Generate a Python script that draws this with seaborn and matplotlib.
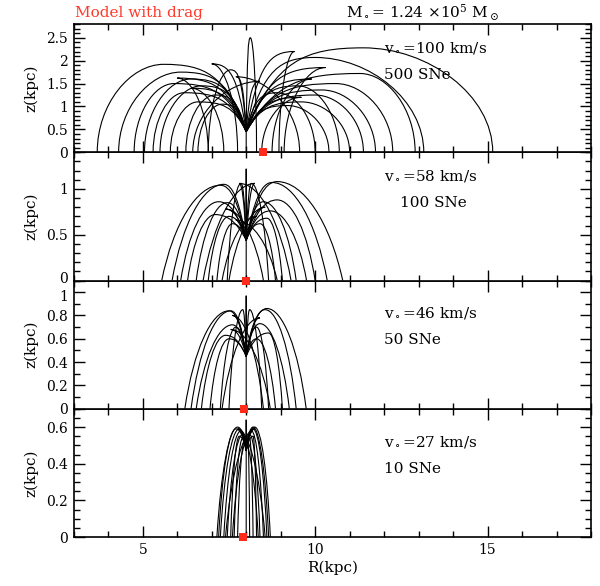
import matplotlib
matplotlib.use('Agg')
import matplotlib.pyplot as plt
from matplotlib.path import Path
from matplotlib.patches import PathPatch
from matplotlib.transforms import ScaledTranslation
import seaborn as sns

# panel settings
v0_labels = ['100', '58', '46', '27']
sne_labels = ['500 SNe', '100 SNe', '50 SNe', '10 SNe']
zmax = [2.8, 1.4, 1.1, 0.7]
launch_R = [8.0, 8.0, 8.0, 8.0]
launch_z = [0.45, 0.44, 0.45, 0.47]
sun_R = [8.5, 8.0, 7.95, 7.9]

# cloud trajectories: apex R, apex z, landing R (kpc)
apexR_100 = [5.6, 6.1, 5.9, 6.4, 6.2, 6.7, 6.6, 7.1, 7.3, 7.55,
             11.4, 10.0, 11.3, 10.6, 10.2, 10.0, 9.6, 9.5, 9.2, 8.9,
             8.12, 9.4, 7.0, 6.0, 6.4, 9.9, 9.6, 10.3, 8.0, 7.7, 8.4]
apexz_100 = [1.92, 1.75, 1.50, 1.60, 1.30, 1.45, 1.10, 1.25, 1.05, 1.80,
             2.28, 2.07, 1.72, 1.50, 1.36, 1.25, 1.10, 1.45, 1.02, 1.30,
             2.50, 2.20, 1.93, 1.62, 1.40, 1.60, 1.20, 1.85, 0.45, 1.65, 1.55]
landR_100 = [3.68, 4.30, 4.75, 5.05, 5.30, 5.50, 5.80, 6.25, 6.60, 6.90,
             15.15, 13.15, 12.9, 12.25, 11.75, 11.4, 11.0, 10.7, 10.4, 10.0,
             8.30, 8.95, 7.75, 6.90, 7.35, 8.75, 8.45, 9.10, 8.0, 9.55, 6.45]

apexR_58 = [7.25, 7.35, 7.2, 7.1, 7.45, 7.5, 7.6, 7.85,
            8.9, 8.75, 8.9, 8.7, 8.5, 8.6, 8.4, 8.15,
            7.8, 8.25, 7.4, 8.55, 7.7, 8.3, 8.0]
apexz_58 = [1.04, 1.05, 0.86, 0.72, 0.85, 0.70, 0.62, 1.06,
            1.08, 1.07, 0.88, 0.76, 0.86, 0.68, 0.62, 1.06,
            1.06, 1.06, 0.78, 0.80, 0.66, 0.70, 1.22]
landR_58 = [5.55, 5.85, 6.1, 6.3, 6.55, 6.9, 7.15, 7.45,
            10.8, 10.35, 10.0, 9.75, 9.45, 9.05, 8.85, 8.65,
            9.3, 6.75, 8.5, 7.5, 8.9, 7.3, 8.0]

apexR_46 = [7.5, 7.55, 7.6, 7.4, 7.5, 7.7, 7.9,
            8.6, 8.55, 8.4, 8.65, 8.3, 8.3, 8.1,
            7.6, 8.4, 7.55, 8.0]
apexz_46 = [0.84, 0.84, 0.72, 0.63, 0.60, 0.70, 0.85,
            0.86, 0.85, 0.73, 0.65, 0.60, 0.70, 0.85,
            0.80, 0.78, 0.68, 0.97]
landR_46 = [6.22, 6.4, 6.55, 6.7, 6.95, 7.25, 7.5,
            9.74, 9.45, 9.25, 9.05, 8.85, 8.65, 8.45,
            8.5, 7.3, 8.7, 8.0]

apexR_27 = [7.75, 7.8, 7.85, 7.9, 7.8, 7.9, 7.95, 7.7,
            8.25, 8.2, 8.15, 8.1, 8.2, 8.1, 8.05, 8.2,
            7.75, 8.25, 7.85, 8.15, 8.0]
apexz_27 = [0.60, 0.59, 0.58, 0.56, 0.55, 0.54, 0.52, 0.59,
            0.60, 0.59, 0.58, 0.56, 0.55, 0.54, 0.52, 0.60,
            0.59, 0.59, 0.57, 0.57, 0.64]
landR_27 = [7.15, 7.25, 7.35, 7.45, 7.55, 7.65, 7.75, 7.2,
            8.70, 8.60, 8.50, 8.40, 8.30, 8.20, 8.10, 8.65,
            8.55, 7.40, 8.35, 7.60, 8.0]

apexR = [apexR_100, apexR_58, apexR_46, apexR_27]
apexz = [apexz_100, apexz_58, apexz_46, apexz_27]
landR = [landR_100, landR_58, landR_46, landR_27]

# bezier shape of the arcs: (rise t, rise w, apex s, fall t, fall w)
shapes = [(0.25, 0.85, 0.5, 0.0, 0.55),
          (0.3, 0.7, 0.4, 0.2, 0.6),
          (0.3, 0.7, 0.4, 0.2, 0.6),
          (0.3, 0.7, 0.4, 0.2, 0.6)]


def draw_orbit(ax, R0, z0, Ra, za, Rl, shape):
    tr, wr, s, tf, wf = shape
    e = Ra - R0
    d = Rl - Ra
    verts = [(R0, z0), (R0 + tr * e, z0 + wr * (za - z0)), (Ra - s * e, za), (Ra, za),
             (Ra + s * d, za), (Rl - tf * d, wf * za), (Rl, 0.0)]
    codes = [Path.MOVETO] + [Path.CURVE4] * 6
    ax.add_patch(PathPatch(Path(verts, codes), fill=False, lw=0.8, ec='black', zorder=2))


sns.set_style('ticks')
plt.rcParams['font.family'] = ['DejaVu Serif']
plt.rcParams['mathtext.fontset'] = 'dejavuserif'
for key in ['text.color', 'axes.labelcolor', 'xtick.color', 'ytick.color', 'axes.edgecolor']:
    plt.rcParams[key] = 'black'

fig, axes = plt.subplots(4, 1, sharex=True, figsize=(6, 5.86), dpi=100,
                         gridspec_kw=dict(hspace=0))
fig.subplots_adjust(left=0.123, right=0.985, bottom=0.0836, top=0.959)

ytick_major = [0.5, 0.5, 0.2, 0.2]
ytick_minor = [0.1, 0.1, 0.1, 0.05]
v0_pos = [2.28, 1.14, 0.82, 0.52]
sne_pos = [(12.0, 1.69), (12.45, 0.85), (12.0, 0.59), (12.0, 0.37)]

for i, ax in enumerate(axes):
    ax.set_zorder(10 - i)
    for j in range(len(apexR[i])):
        draw_orbit(ax, launch_R[i], launch_z[i], apexR[i][j], apexz[i][j], landR[i][j], shapes[i])
    sns.scatterplot(x=[sun_R[i]], y=[0.0], marker='s', color='#ff2a1a', s=38,
                    linewidth=0, clip_on=False, zorder=6, ax=ax)
    ax.set_xlim(3, 18)
    ax.set_ylim(0, zmax[i])
    ax.xaxis.set_major_locator(plt.MultipleLocator(5))
    ax.xaxis.set_minor_locator(plt.MultipleLocator(1))
    ax.yaxis.set_major_locator(plt.MultipleLocator(ytick_major[i]))
    ax.yaxis.set_minor_locator(plt.MultipleLocator(ytick_minor[i]))
    ax.yaxis.set_major_formatter(plt.FuncFormatter(lambda v, p: ('%g' % round(v, 2))))
    ax.tick_params(which='both', direction='in', top=True, right=True, width=1.0,
                   labelsize=10, pad=4)
    ax.tick_params(which='major', length=8)
    ax.tick_params(which='minor', length=4.5)
    for sp in ax.spines.values():
        sp.set_linewidth(1.2)
    ax.set_ylabel('z(kpc)', fontsize=11, labelpad=6)
    ax.text(12.0, v0_pos[i], r'v$_\circ$=' + v0_labels[i] + ' km/s', fontsize=11, va='center')
    ax.text(sne_pos[i][0], sne_pos[i][1], sne_labels[i], fontsize=11, va='center')

axes[-1].set_xlabel('R(kpc)', fontsize=11, labelpad=3)

fig.text(0.125, 0.978, 'Model with drag', color='#ff3a2a', fontsize=11, va='center')
fig.text(0.705, 0.978, r'M$_\circ$= 1.24 $\times$10$^5$ M$_\odot$', fontsize=11, va='center',
         ha='center')

# nudge the "0" / "1" labels where panels 2 and 3 meet so they don't collide
fig.canvas.draw()
for t in axes[1].yaxis.get_major_ticks():
    if abs(t.get_loc()) < 1e-6:
        t.label1.set_transform(t.label1.get_transform() + ScaledTranslation(0, 2.5 / 72, fig.dpi_scale_trans))
for t in axes[2].yaxis.get_major_ticks():
    if abs(t.get_loc() - 1.0) < 1e-6:
        t.label1.set_transform(t.label1.get_transform() + ScaledTranslation(0, -2.5 / 72, fig.dpi_scale_trans))

fig.savefig('out.png', dpi=100)
